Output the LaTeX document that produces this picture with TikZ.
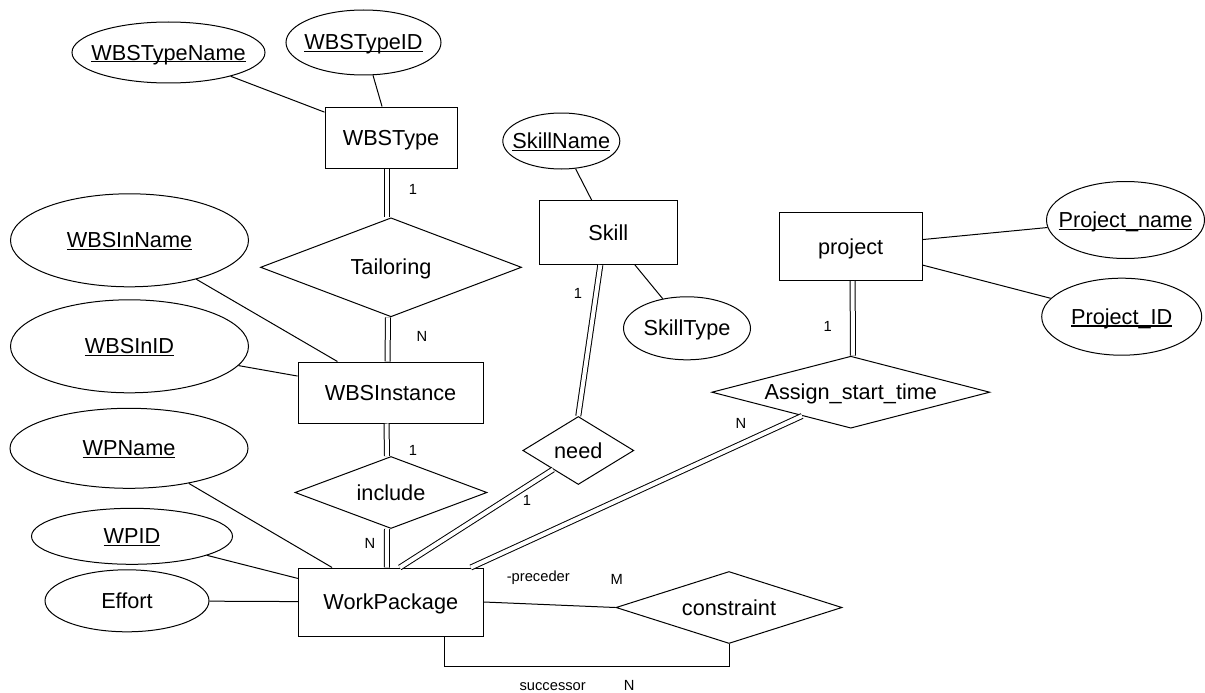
\documentclass[tikz,border=0pt]{standalone}
\usepackage{fontspec}
\setmainfont{Liberation Sans}
\usetikzlibrary{shapes.geometric}

\newcommand{\bigtext}{\fontsize{21.7}{26}\selectfont}
\newcommand{\smalltext}{\fontsize{14.7}{17}\selectfont}
\newsavebox{\keybox}
\newcommand{\keyattr}[1]{\makebox[0pt]{\sbox{\keybox}{#1}\rlap{\vrule width\wd\keybox height -1.2pt depth 2.4pt}\usebox{\keybox}}}
\newcommand{\plainattr}[1]{\makebox[0pt]{#1}}

\tikzstyle{entity}=[
  rectangle,
  draw,
  line width=1pt,
  inner sep=0pt,
  text height=19pt,
  text depth=4pt,
  font=\bigtext,
  ]
\tikzstyle{attribute}=[ entity, ellipse ]
\tikzstyle{relation}=[ entity, diamond ]
\tikzstyle{card}=[ inner sep=0pt, font=\smalltext ]
\tikzstyle{attr edge}=[ line width=1pt ]
\tikzstyle{total edge}=[ line width=1pt, double, double distance=4pt ]

\begin{document}
\begin{tikzpicture}[
    x=1pt,
    y=-1pt,
    ]
    \useasboundingbox (0,0) rectangle (1205,693);

    \node[attribute, minimum width=193pt, minimum height=61pt] (wbstypename) at (168.5,52.5) {\keyattr{WBSTypeName}};
    \node[attribute, minimum width=155pt, minimum height=65pt] (wbstypeid) at (363.5,42.5) {\keyattr{WBSTypeID}};
    \node[entity, minimum width=132pt, minimum height=61pt] (wbstype) at (391,137.5) {WBSType};
    \draw[attr edge] (wbstypename) -- (wbstype);
    \draw[attr edge] (wbstypeid) -- (wbstype);

    \node[relation, aspect=2.64, minimum width=261pt, minimum height=99pt] (tailoring) at (391,267.3) {Tailoring};
    \draw[total edge] ([xshift=-4pt]wbstype.south) -- ([xshift=-4pt]tailoring.north);
    \node[card] (tailoring1) at (413,189) {1};

    \node[attribute, minimum width=238pt, minimum height=93pt] (wbsinname) at (129.5,240.3) {\keyattr{WBSInName}};
    \node[attribute, minimum width=238pt, minimum height=93pt] (wbsinid) at (129.5,346.3) {\keyattr{WBSInID}};
    \node[entity, minimum width=185pt, minimum height=61pt] (wbsinstance) at (390.5,392.5) {WBSInstance};
    \draw[attr edge] (wbsinname) -- (wbsinstance);
    \draw[attr edge] (wbsinid) -- (wbsinstance);
    \draw[total edge] ([xshift=-3pt]tailoring.south) -- ([xshift=-3pt]wbsinstance.north);
    \node[card] (tailoringN) at (422,336) {N};

    \node[relation, aspect=2.67, minimum width=192pt, minimum height=72pt] (include) at (391,492.5) {include};
    \draw[total edge] ([xshift=-4pt]wbsinstance.south) -- ([xshift=-4pt]include.north);
    \node[card] (include1) at (413,450) {1};

    \node[attribute, minimum width=238pt, minimum height=80pt] (wpname) at (129,448.3) {\keyattr{WPName}};
    \node[attribute, minimum width=201pt, minimum height=56pt] (wpid) at (132,536.3) {\keyattr{WPID}};
    \node[attribute, minimum width=164pt, minimum height=62pt] (effort) at (127,600.8) {\plainattr{Effort}};
    \node[entity, minimum width=185pt, minimum height=68pt] (wp) at (390.8,602) {WorkPackage};
    \draw[attr edge] (wpname) -- (wp);
    \draw[attr edge] (wpid) -- (wp);
    \draw[attr edge] (effort) -- (wp);
    \draw[total edge] ([xshift=-4pt]include.south) -- ([xshift=-4pt]wp.north);
    \node[card] (includeN) at (370,543) {N};

    \node[attribute, minimum width=117pt, minimum height=56pt] (skillname) at (561.3,141) {\keyattr{SkillName}};
    \node[attribute, minimum width=127pt, minimum height=63pt] (skilltype) at (687,328.3) {\plainattr{SkillType}};
    \node[entity, minimum width=138pt, minimum height=64pt] (skill) at (608.3,232.5) {Skill};
    \draw[attr edge] (skillname) -- (skill);
    \draw[attr edge] (skill) -- (skilltype);

    \node[relation, aspect=1.63, minimum width=111pt, minimum height=68pt] (need) at (578.3,450.5) {need};
    \draw[total edge] ([xshift=-8pt]skill.south) -- (need.north);
    \node[card] (need1) at (578,293) {1};
    \draw[total edge] (need.217) -- ([xshift=9pt]wp.north);
    \node[card] (needwp1) at (527,500) {1};

    \node[attribute, minimum width=158pt, minimum height=77pt] (projectname) at (1125.5,220) {\keyattr{Project\_name}};
    \node[attribute, minimum width=160pt, minimum height=77pt] (projectid) at (1121.7,316.7) {\keyattr{Project\_ID}};
    \node[entity, minimum width=143pt, minimum height=68pt] (project) at (850.7,246.5) {project};
    \draw[attr edge] (project) -- (projectname);
    \draw[attr edge] (project) -- (projectid);

    \node[relation, aspect=3.86, minimum width=278pt, minimum height=72pt] (assign) at (850.8,392.2) {Assign\_start\_time};
    \draw[total edge] ([xshift=2pt]project.south) -- ([xshift=2pt]assign.north);
    \node[card] (assign1) at (827.6,326.7) {1};
    \draw[total edge] (assign.206) -- ([xshift=-13pt]wp.north east);
    \node[card] (assignN) at (740.8,423.3) {N};

    \node[relation, aspect=3.14, minimum width=226pt, minimum height=72pt] (constraint) at (729,607.5) {constraint};
    \draw[attr edge] (wp.east) -- (constraint.west);
    \draw[attr edge] ([xshift=53.5pt]wp.south) -- ++(0,30) -| (constraint.south);
    \node[card] (preceder) at (538.3,577.3) {-preceder};
    \node[card] (precederM) at (616.7,579.3) {M};
    \node[card] (successor) at (552.7,686.7) {successor};
    \node[card] (successorN) at (629.3,685.7) {N};
  \end{tikzpicture}
\end{document}
